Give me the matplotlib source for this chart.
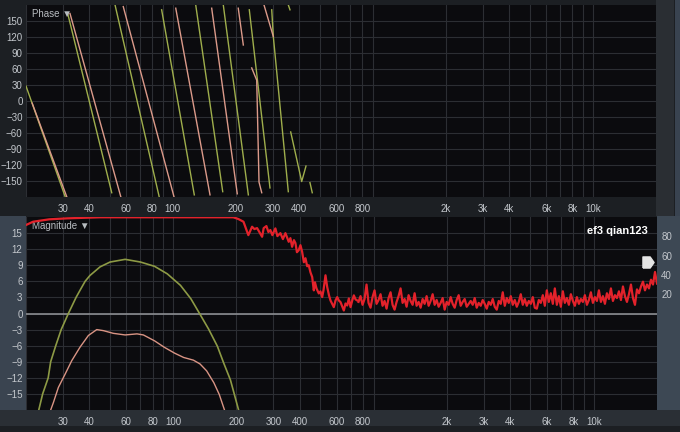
import numpy as np
import matplotlib.pyplot as plt
from matplotlib.patches import Rectangle

nan = np.nan

# ---- data ----
# phase traces: frequency (Hz) and phase (deg); nan splits each wrap
green_phase_hz = [20, 30.7, nan, 31.6, 51.2, nan, 53.1, 86.2, nan, 88.5, 126.6, nan,
                  128.6, 172.9, nan, 174, 229, nan, 231.4, 290.3, nan,
                  295.9, 301.1, 354.9, nan, 355, 361.5, nan, 364.3, 411, 430.8, nan, 450, 461.5]
green_phase_deg = [28, -179, nan, 164, -172, nan, 180, -180, nan, 171, -176, nan,
                   180, -170, nan, 180, -176, nan, 171, -163, nan,
                   171, 121, -170, nan, 180, 171, nan, -58, -151, -122, nan, -153, -172]

pink_phase_hz = [21.4, 31.3, nan, 32.4, 56.5, nan, 58.1, 101.4, nan, 103.3, 150.4, nan,
                 153.2, 202.8, nan, 205, 216.7, nan, 237.6, 251, 257.4, 265.2, nan,
                 271.9, 301.1]
pink_phase_deg = [-4, -180, nan, 164, -179, nan, 177, -180, nan, 174, -176, nan,
                  174, -174, nan, 174, 105, nan, 62, 39, -152, -172, nan,
                  180, 121]

# magnitude traces (Hz, dB)
green_mag_hz = [23.0, 24.0, 25.5, 26.2, 27.7, 29.4, 31.8, 34.6, 36.1, 38.2, 40.3,
                45.0, 50.2, 59.2, 70.0, 81.7, 93.9, 108.5, 121.6, 133.7, 147.6,
                162.5, 174.0, 187.5, 205]
green_mag_db = [-18, -15, -12, -9, -6, -3, 0, 3, 4.3, 6, 7.1,
                8.7, 9.6, 10.1, 9.6, 8.8, 7.4, 5.25, 2.75, 0, -2.9,
                -6.1, -9.2, -12.4, -18]

pink_mag_hz = [26.2, 27.0, 28.5, 30.7, 33.0, 36.1, 39.6, 43.4, 46.7, 52.0, 59.2,
               67.4, 72.3, 81.7, 90.9, 101.8, 112.3, 125.0, 134.3, 144.5, 156.3,
               165.9, 175.7]
pink_mag_db = [-18, -16.6, -13.8, -11.3, -8.8, -6.3, -4.1, -3.0, -3.2, -3.7, -4.0,
               -3.8, -4.0, -5.1, -6.3, -7.4, -8.2, -8.7, -9.4, -10.7, -12.9,
               -15.1, -18]

# coherence (right axis, %), low part read point by point
coh_low_hz = [20, 21.6, 25.8, 31.3, 45.0, 193.5, 204.5, 216.3, 228.1, 237.6, 243.7,
              251, 257.4, 265.2, 269.8, 278, 284.2, 290.3, 296.7, 306.7, 313.5, 324,
              333, 342.3, 354.9, 361.5, 368.3, 375.8, 382, 388.3, 396, 403.5, 411,
              419, 426.3, 434.3, 441.9, 450.2, 458.8, 467, 473, 481, 493.3, 502.4,
              511.8, 519.3, 530.8, 540.8, 551.6, 560.7, 570, 581.4, 592.3, 603.5,
              614.1, 625.7, 637.5, 648.8, 660.9, 673.2, 685.4, 698.3, 711.4, 724,
              737.6, 751]
coh_low = [91.7, 95.1, 97.6, 98.6, 99.7, 99.7, 97.9, 95.1, 81.2, 89.9, 87.5,
           88.5, 84.4, 79.5, 88.5, 90.6, 84.4, 86.5, 81.2, 88.2, 80.2, 83.3,
           77.1, 83.3, 74.3, 78.1, 69.1, 76.0, 72.9, 63.5, 65.6, 70.8, 63.9,
           53.1, 57.3, 49.0, 50.0, 42.7, 37.8, 24.0, 32.3, 26.0, 20.8, 22.9,
           17.0, 24.0, 39.6, 27.4, 18.8, 13.5, 10.4, 6.6, 13.5, 17.0,
           13.5, 11.8, 7.3, 3.1, 10.4, 8.3, 15.6, 6.6, 13.5, 18.8,
           14.6, 13.5]
# noise floor above ~760 Hz, one value per analyzer bin
coh_high = [12, 18, 9, 15, 30, 11, 6, 17, 24, 10,
            14, 20, 8, 13, 5, 16, 22, 9, 4, 12,
            18, 26, 11, 15, 7, 19, 13, 9, 21, 8,
            12, 6, 15, 10, 18, 8, 13, 20, 9, 14,
            7, 11, 16, 4, 12, 9, 17, 10, 6, 14,
            19, 8, 12, 15, 7, 10, 13, 9, 16, 6,
            11, 8, 14, 10, 5, 12, 9, 15, 7, 4,
            13, 10, 22, 8, 16, 11, 18, 9, 14, 7,
            12, 20, 9, 15, 8, 13, 10, 17, 6, 5,
            14, 11, 19, 8, 24, 12, 21, 10, 26, 9,
            18, 7, 23, 11, 16, 9, 20, 13, 8, 17,
            10, 15, 12, 19, 9, 14, 22, 11, 17, 13,
            24, 12, 18, 10, 21, 15, 26, 13, 19, 16,
            23, 14, 28, 18, 12, 20, 30, 16, 9, 25,
            21, 28, 33, 24, 30, 26, 35, 30, 43, 31]
coh_high_hz = np.geomspace(762, 20000, len(coh_high))

tick_hz = [30, 40, 60, 80, 100, 200, 300, 400, 600, 800, 2000, 3000, 4000, 6000, 8000, 10000]
tick_labels = ['30', '40', '60', '80', '100', '200', '300', '400', '600', '800',
               '2k', '3k', '4k', '6k', '8k', '10k']
grid_hz = [m * d for d in (10, 100, 1000) for m in range(2, 10)] + [10000]

W, H = 680, 432
PLOT_BG = '#0b0b0e'
GRID = '#2c2e33'
TXT = '#c3c7cc'
RED = '#e3222b'
plt.rcParams['font.family'] = ['Liberation Sans', 'DejaVu Sans']


def box(fig, x0, y0, x1, y1, color):
    # rectangle given in screenshot pixels (origin top-left)
    fig.add_artist(Rectangle((x0 / W, 1 - y1 / H), (x1 - x0) / W, (y1 - y0) / H,
                             transform=fig.transFigure, color=color, lw=0, zorder=-5))


def style_freq_axes(ax, yticks):
    ax.set_facecolor(PLOT_BG)
    ax.set_xscale('log')
    ax.set_xlim(20, 20000)
    ax.set_xticks(grid_hz, minor=True)
    ax.set_xticks(tick_hz)
    ax.set_xticklabels(tick_labels)
    ax.set_yticks(yticks)
    ax.tick_params(which='both', length=0, colors=TXT, labelsize=7)
    ax.tick_params(axis='x', pad=5)
    ax.tick_params(axis='y', pad=2.5)
    ax.xaxis.grid(True, which='both', color=GRID, lw=0.8)
    ax.yaxis.grid(True, color=GRID, lw=0.8)
    ax.set_axisbelow(True)
    for s in ax.spines.values():
        s.set_visible(False)


fig = plt.figure(figsize=(6.8, 4.32), dpi=100, facecolor='#1c1f23')

# frame pieces around the two panels
box(fig, 0, 216, 26, 410, '#3a4450')
box(fig, 657, 216, 680, 410, '#3d4854')
box(fig, 0, 410, 680, 426, '#2a2f35')
box(fig, 656, 0, 674, 216, '#2a2e33')
box(fig, 675, 0, 680, 216, '#394350')

# ---- phase panel ----
ax1 = fig.add_axes([26 / W, 1 - 197 / H, 630 / W, 192 / H])
style_freq_axes(ax1, [150, 120, 90, 60, 30, 0, -30, -60, -90, -120, -150])
ax1.set_ylim(-180, 180)
ax1.plot(green_phase_hz, green_phase_deg, color='#9fae4c', lw=1.0)
ax1.plot(pink_phase_hz, pink_phase_deg, color='#dc9a8a', lw=1.0)
ax1.text(0.0095, 0.953, 'Phase \u25bc', transform=ax1.transAxes,
         color='#b8bcc0', fontsize=7, va='center', ha='left')

# ---- magnitude panel ----
ax2 = fig.add_axes([26 / W, 1 - 410 / H, 631 / W, 193 / H])
style_freq_axes(ax2, [15, 12, 9, 6, 3, 0, -3, -6, -9, -12, -15])
ax2.set_ylim(-18, 18)
ax2.axhline(0, color='#8a8c90', lw=1.2, zorder=1)
ax2.plot(green_mag_hz, green_mag_db, color='#8d9a45', lw=1.2, zorder=3)
ax2.plot(pink_mag_hz, pink_mag_db, color='#d99484', lw=1.0, zorder=3)
ax2.text(0.0095, 0.953, 'Magnitude \u25bc', transform=ax2.transAxes,
         color='#b8bcc0', fontsize=7, va='center', ha='left', zorder=5)
ax2.text(0.985, 0.925, 'ef3 qian123', transform=ax2.transAxes, color='white',
         fontsize=8, fontweight='bold', va='center', ha='right', zorder=5)

# coherence on the right-hand scale
ax3 = ax2.twinx()
ax3.set_ylim(-100, 100)
ax3.set_yticks([20, 40, 60, 80])
ax3.tick_params(length=0, colors=TXT, labelsize=7, pad=3)
for s in ax3.spines.values():
    s.set_visible(False)
ax3.plot(coh_low_hz, coh_low, color=RED, lw=1.6, zorder=4)
ax3.plot(coh_high_hz, coh_high, color=RED, lw=1.6, zorder=4)
tag = [(-1, -1), (0.3, -1), (1, 0), (0.3, 1), (-1, 1), (-1, -1)]
ax3.plot([0.986], [53], marker=tag, ms=8, color='#e4e4e4', lw=0,
         transform=ax3.get_yaxis_transform(), clip_on=False, zorder=6)

fig.savefig('out.png', dpi=100, facecolor=fig.get_facecolor())
